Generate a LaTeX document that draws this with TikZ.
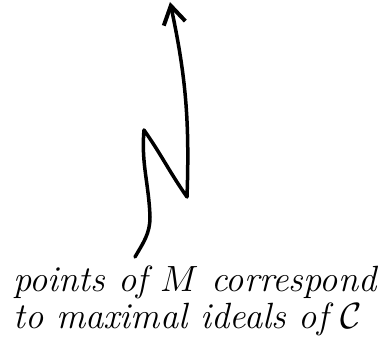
\RequirePackage{fix-cm}
\documentclass[tikz,border=0pt]{standalone}
\usepackage{fontspec}
\usetikzlibrary{arrows.meta}
\tikzset{
  squiggle/.style={line width=3.5pt, line cap=round, line join=round,
    -{Straight Barb[length=18pt,width=22pt,line width=4pt]}},
  caption/.style={anchor=base west, inner sep=0pt, align=left,
    font=\fontsize{36.5}{37}\selectfont\itshape}
}
\begin{document}
\begin{tikzpicture}[x=1pt,y=1pt]
\useasboundingbox (0,0) rectangle (387,344);
\coordinate (s) at (135,87);
\coordinate (a) at (150,127);
\coordinate (t) at (144,214);
\coordinate (b) at (187,147);
\coordinate (e) at (170,342);
\node[caption] (txt) at (13,15) {points of $M$ correspond\\to maximal ideals of $\mathcal{C}$};
\draw[squiggle] (s) to[out=60,in=-90] (a) to[out=92,in=-95] (t)
  to[out=-55,in=125] (b) to[out=88,in=-78] (e);
\end{tikzpicture}
\end{document}
